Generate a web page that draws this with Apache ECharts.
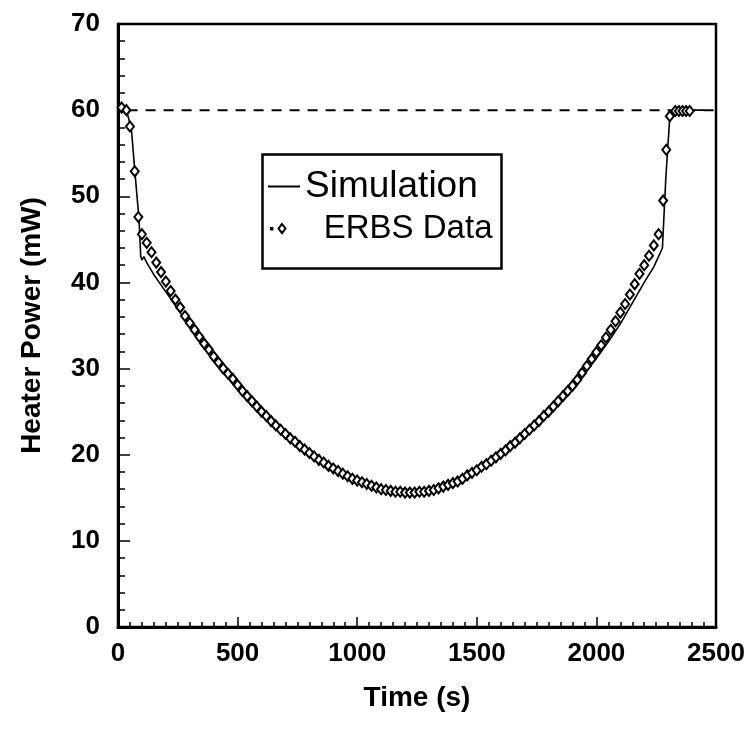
<!DOCTYPE html>
<html>
<head>
<meta charset="utf-8">
<script src="https://cdn.jsdelivr.net/npm/echarts@6/dist/echarts.min.js"></script>
<style>
html,body{margin:0;padding:0;background:#fff;}
#chart{width:748px;height:737px;}
</style>
</head>
<body>
<div id="chart"></div>
<script>
// ---- data ----
const ERBS_TIME = [15,35,50,70,85,
 100,120,140,160,180,200,220,240,260,280,300,320,340,360,380,400,420,440,460,480,
 500,520,540,560,580,600,620,640,660,680,700,720,740,760,780,800,820,840,860,880,
 900,920,940,960,980,1000,1020,1040,1060,1080,1100,1120,1140,1160,1180,1200,1220,1240,1260,1280,
 1300,1320,1340,1360,1380,1400,1420,1440,1460,1480,1500,1520,1540,1560,1580,1600,1620,1640,1660,1680,
 1700,1720,1740,1760,1780,1800,1820,1840,1860,1880,1900,1920,1940,1960,1980,2000,2020,2040,2060,2080,
 2100,2120,2140,2160,2180,2200,2220,2240,2260,
 2279,2292,2307,2330,2345,2360,2375,2390];
const ERBS_POWER = [60.3,60.0,58.1,52.9,47.6,
 45.6,44.6,43.5,42.3,41.2,40.1,39.0,38.0,37.1,36.1,35.3,34.5,33.7,32.9,32.2,31.4,30.7,30.0,29.4,28.8,
 28.1,27.4,26.8,26.2,25.6,25.0,24.5,23.9,23.4,22.9,22.4,21.9,21.5,21.0,20.6,20.2,19.8,19.4,19.1,18.7,
 18.4,18.1,17.8,17.5,17.2,17.0,16.8,16.6,16.4,16.2,16.0,15.9,15.8,15.7,15.7,15.6,15.6,15.6,15.7,15.7,
 15.8,15.9,16.1,16.3,16.5,16.7,16.9,17.2,17.6,17.9,18.2,18.6,18.9,19.3,19.7,20.1,20.5,21.0,21.4,21.9,
 22.4,22.9,23.4,23.9,24.5,25.0,25.6,26.2,26.8,27.4,28.0,28.7,29.5,30.3,31.1,31.9,32.7,33.6,34.5,35.5,
 36.5,37.5,38.6,39.8,41.0,42.0,43.1,44.3,45.6,
 49.5,55.4,59.3,59.9,59.9,59.9,59.9,59.9];

const SIM_TIME = [5,16,40,56,72,88,95,100,108,120,150,200,250,300,400,500,600,700,800,900,
 1000,1100,1200,1300,1400,1500,1600,1700,1800,1900,2000,2050,2100,2150,2200,2240,2276,2290,2307,2320,2452];
const SIM_POWER = [60.3,60.1,59.5,57.8,52.4,47.3,43.0,42.6,43.0,42.3,40.9,38.9,36.9,34.9,31.3,27.9,24.9,22.3,20.1,18.3,
 16.9,15.9,15.5,15.7,16.6,18.0,19.9,22.2,24.8,27.7,31.2,33.1,35.2,37.6,40.0,41.8,44.0,52.0,59.3,60.0,60.0];

const REF_TIME = [40, 2500];
const REF_POWER = [60, 60];

const X_TICKS = [0, 500, 1000, 1500, 2000, 2500];
const Y_TICKS = [0, 10, 20, 30, 40, 50, 60, 70];

const zip = (a, b) => a.map((v, i) => [v, b[i]]);

const FONT = '"Liberation Sans", Arial, Helvetica, sans-serif';
const chart = echarts.init(document.getElementById('chart'), null, {renderer: 'canvas'});

chart.setOption({
  animation: false,
  backgroundColor: '#fff',
  textStyle: {fontFamily: FONT, color: '#000'},
  grid: {left: 118, right: 32, top: 24, bottom: 110, show: true, borderColor: '#000', borderWidth: 2.5},
  xAxis: {
    type: 'value', min: X_TICKS[0], max: X_TICKS[X_TICKS.length - 1], interval: 500,
    name: 'Time (s)', nameLocation: 'middle', nameGap: 57,
    nameTextStyle: {fontSize: 28, fontWeight: 'bold', fontFamily: FONT, color: '#000'},
    axisLine: {lineStyle: {color: '#000', width: 3}},
    axisTick: {inside: true, length: 10, lineStyle: {color: '#000', width: 1.5}},
    minorTick: {show: true, splitNumber: 10, length: 5, lineStyle: {color: '#000', width: 1.5}},
    splitLine: {show: false},
    axisLabel: {fontSize: 26, fontWeight: 'bold', color: '#000', margin: 14, fontFamily: FONT,
      formatter: v => String(v)}
  },
  yAxis: {
    type: 'value', min: Y_TICKS[0], max: Y_TICKS[Y_TICKS.length - 1], interval: 10,
    name: 'Heater Power (mW)', nameLocation: 'middle', nameGap: 72,
    nameTextStyle: {fontSize: 28, fontWeight: 'bold', fontFamily: FONT, color: '#000'},
    axisLine: {lineStyle: {color: '#000', width: 3}},
    axisTick: {inside: true, length: 12, lineStyle: {color: '#000', width: 1.5}},
    minorTick: {show: true, splitNumber: 5, length: 7, lineStyle: {color: '#000', width: 1.5}},
    splitLine: {show: false},
    axisLabel: {fontSize: 26, fontWeight: 'bold', color: '#000', margin: 18, fontFamily: FONT,
      formatter: v => String(v)}
  },
  legend: [
    {
      data: [{name: 'Simulation', icon: 'rect'}], left: 268, top: 168, padding: 0,
      itemWidth: 32, itemHeight: 2,
      textStyle: {fontSize: 37, fontFamily: FONT, color: '#000'}
    },
    {
      data: [{name: 'ERBS Data', icon: 'path://M0,4 h1.4 v1.4 h-1.4 Z M11,0 L14.5,4.5 L11,9 L7.5,4.5 Z'}],
      left: 270, top: 212, padding: 0,
      itemWidth: 15, itemHeight: 9,
      textStyle: {fontSize: 33, fontFamily: FONT, color: '#000', padding: [0, 0, 0, 33]}
    }
  ],
  graphic: [{
    type: 'rect', left: 260, top: 152, z: 10,
    shape: {width: 239, height: 114},
    style: {fill: 'none', stroke: '#000', lineWidth: 2.5}
  }],
  series: [
    {
      name: 'Reference', type: 'line', data: zip(REF_TIME, REF_POWER),
      symbol: 'none', silent: true,
      lineStyle: {color: '#000', width: 2, type: [10, 8]}, z: 2
    },
    {
      name: 'Simulation', type: 'line', data: zip(SIM_TIME, SIM_POWER),
      symbol: 'none', lineStyle: {color: '#000', width: 1.6}, itemStyle: {color: '#000'}, z: 3
    },
    {
      name: 'ERBS Data', type: 'scatter', data: zip(ERBS_TIME, ERBS_POWER),
      symbol: 'diamond', symbolSize: [8, 10],
      itemStyle: {color: '#fff', borderColor: '#000', borderWidth: 2, opacity: 1}, z: 4
    }
  ]
});
</script>
</body>
</html>
